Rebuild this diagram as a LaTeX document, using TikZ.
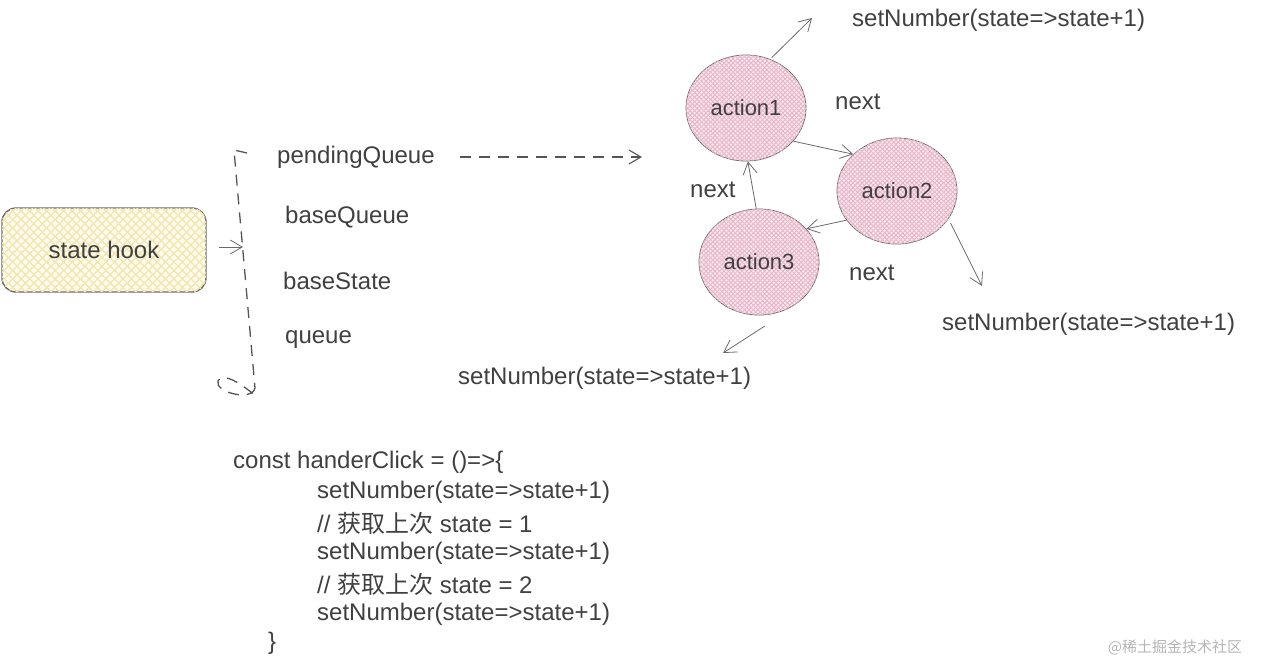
\documentclass[tikz,border=0pt]{standalone}
\usepackage{fontspec}
\setmainfont{Liberation Sans}
\newfontfamily\cjk{Noto Sans CJK SC}
\usetikzlibrary{arrows.meta,patterns.meta,shapes.geometric}
\definecolor{ink}{HTML}{404040}
\definecolor{linegray}{HTML}{6A6A6A}
\definecolor{dashgray}{HTML}{555555}
\definecolor{pinkfill}{HTML}{F8E6ED}
\definecolor{pinkhatch}{HTML}{E8B6C9}
\definecolor{yelfill}{HTML}{FFFCEF}
\definecolor{yelhatch}{HTML}{F3E6B0}
\definecolor{wm}{HTML}{B5B5B5}
\tikzset{
  lbl/.style={text=ink, font=\fontsize{24}{28}\selectfont, inner sep=0pt, anchor=west},
  actnode/.style={ellipse, draw=linegray, line width=0.8pt, fill=pinkfill,
    minimum width=120pt, minimum height=106pt, inner sep=0pt, text=ink,
    font=\fontsize{22}{26}\selectfont,
    postaction={pattern={Lines[angle=45,distance=3.2pt,line width=0.9pt]}, pattern color=pinkhatch},
    postaction={pattern={Lines[angle=-45,distance=3.2pt,line width=0.9pt]}, pattern color=pinkhatch}},
  hookbox/.style={rectangle, rounded corners=14pt, draw=linegray, line width=1.4pt,
    fill=yelfill, minimum width=204pt, minimum height=84pt, text=ink,
    font=\fontsize{24}{28}\selectfont,
    postaction={pattern={Lines[angle=45,distance=6pt,line width=1.4pt]}, pattern color=yelhatch},
    postaction={pattern={Lines[angle=-45,distance=6pt,line width=1.4pt]}, pattern color=yelhatch}},
  arr/.style={draw=linegray, line width=0.8pt, -{Straight Barb[length=12pt,width=14pt]}},
  dsh/.style={draw=dashgray, line width=1.3pt, dash pattern=on 11pt off 8pt},
}
\begin{document}
\begin{tikzpicture}[x=1pt,y=-1pt]
\useasboundingbox (0,0) rectangle (1262,665);

% state hook
\node[hookbox] (hook) at (104,250) {state hook};

% bracket
\coordinate (brtop) at (234,150);
\coordinate (brtick) at (247,153);
\coordinate (brbot) at (255,388);
\coordinate (brin) at (243,247);
\draw[dsh] (brtick) -- (brtop) -- (brbot);
\draw[dsh] (brbot) .. controls (252,402) and (214,392) .. (218,381)
  .. controls (222,372) and (240,382) .. (258,398);
\draw[arr] (hook.east) ++(12,-3) coordinate (hookout) (hookout) -- (brin);

% fields
\node[lbl] (pq) at (277,157) {pendingQueue};
\node[lbl] (bq) at (285,217) {baseQueue};
\node[lbl] (bs) at (283,281) {baseState};
\node[lbl] (qu) at (285,340) {queue};

% dashed arrow
\coordinate (dstart) at (460,157);
\coordinate (dend) at (642,157);
\draw[dsh, line width=1.1pt, -{Straight Barb[length=12pt,width=14pt]}] (dstart) -- (dend);

% actions
\node[actnode] (a1) at (746,108) {action1};
\node[actnode] (a2) at (897,191) {action2};
\node[actnode] (a3) at (759,262) {action3};

\draw[arr] (a1.-35) -- (a2.140);
\draw[arr] (a2.-150) -- (a3.35);
\draw[arr] (a3.93) -- (a1.-88);

\node[lbl] (n1) at (835,102) {next};
\node[lbl] (n2) at (690,190) {next};
\node[lbl] (n3) at (849,273) {next};

% outgoing setNumber
\node[lbl] (s1) at (852,20) {setNumber(state=>state+1)};
\node[lbl] (s2) at (942,324) {setNumber(state=>state+1)};
\node[lbl] (s3) at (458,378) {setNumber(state=>state+1)};

\coordinate (t1) at (812,18);
\coordinate (t2) at (982,286);
\coordinate (t3) at (723,353);
\draw[arr] (a1.62) ++(0,-2) coordinate (f1) (f1) -- (t1);
\draw[arr] (a2.-30) ++(3,3) coordinate (f2) (f2) -- (t2);
\draw[arr] (a3.-75) ++(-8,12) coordinate (f3) (f3) -- (t3);

% code
\node[lbl] (c1) at (233,462) {const handerClick = ()=>\{};
\node[lbl] (c2) at (317,492) {setNumber(state=>state+1)};
\node[lbl] (c3) at (317,523) {// {\cjk 获取上次} state = 1};
\node[lbl] (c4) at (317,553) {setNumber(state=>state+1)};
\node[lbl] (c5) at (317,584) {// {\cjk 获取上次} state = 2};
\node[lbl] (c6) at (317,614) {setNumber(state=>state+1)};
\node[lbl] (c7) at (268,643) {\}};

% watermark
\node[text=wm, font=\cjk\fontsize{15}{18}\selectfont, inner sep=0pt] (wmk) at (1175,647) {@稀土掘金技术社区};
\end{tikzpicture}
\end{document}
